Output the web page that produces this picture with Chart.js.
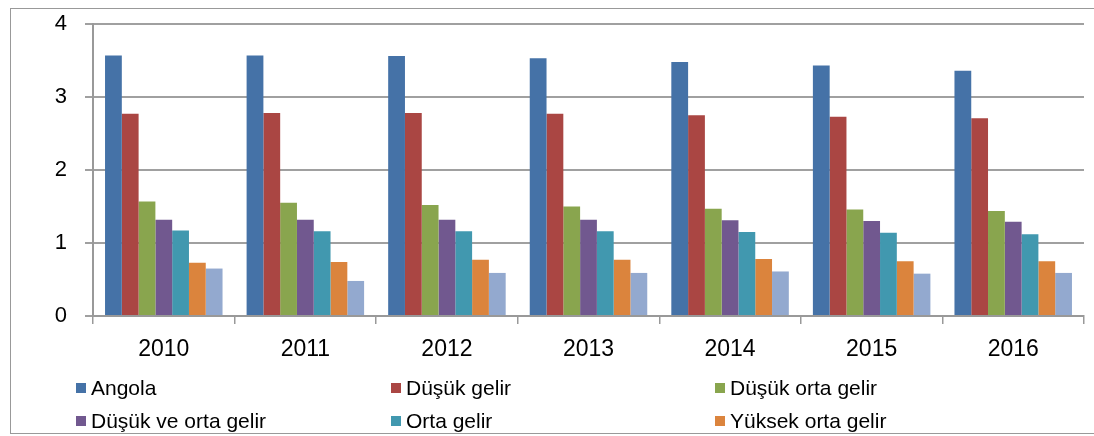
<!DOCTYPE html>
<html>
<head>
<meta charset="utf-8">
<script src="https://cdn.jsdelivr.net/npm/chart.js@4.4.1/dist/chart.umd.min.js"></script>
<style>
  html, body { margin: 0; padding: 0; background: #fff; }
  #wrap { position: relative; width: 1094px; height: 436px; overflow: hidden; }
  #frame { position: absolute; left: 10px; top: 8px; width: 1100px; height: 426px; border: 1px solid #999; box-sizing: border-box; pointer-events: none; }
  canvas { position: absolute; left: 0; top: 0; }
  .leg { position: absolute; font-family: "Liberation Sans", Arial, sans-serif; font-size: 21px; color: #000; line-height: 24px; white-space: nowrap; }
  .leg i { display: inline-block; width: 10px; height: 10px; margin-right: 5px; vertical-align: 2px; }
</style>
</head>
<body>
<div id="wrap">
  <canvas id="c" width="1094" height="436"></canvas>
  <div id="frame"></div>
  <div id="legend"></div>
</div>
<script>
const categories = ["2010", "2011", "2012", "2013", "2014", "2015", "2016"];
const seriesNames = ["Angola", "Düşük gelir", "Düşük orta gelir", "Düşük ve orta gelir", "Orta gelir", "Yüksek orta gelir", "Yüksek gelir"];
const angola          = [3.57, 3.57, 3.56, 3.53, 3.48, 3.43, 3.36];
const dusukGelir      = [2.77, 2.78, 2.78, 2.77, 2.75, 2.73, 2.71];
const dusukOrtaGelir  = [1.57, 1.55, 1.52, 1.50, 1.47, 1.46, 1.44];
const dusukVeOrta     = [1.32, 1.32, 1.32, 1.32, 1.31, 1.30, 1.29];
const ortaGelir       = [1.17, 1.16, 1.16, 1.16, 1.15, 1.14, 1.12];
const yuksekOrtaGelir = [0.73, 0.74, 0.77, 0.77, 0.78, 0.75, 0.75];
const yuksekGelir     = [0.65, 0.48, 0.59, 0.59, 0.61, 0.58, 0.59];
const yTicks = [0, 1, 2, 3, 4];
const legendCount = 6;

const colors = ["#4572a7", "#aa4643", "#89a54e", "#71588f", "#4198af", "#db843d", "#93a9cf"];
const values = [angola, dusukGelir, dusukOrtaGelir, dusukVeOrta, ortaGelir, yuksekOrtaGelir, yuksekGelir];

const datasets = values.map((v, i) => ({
  label: seriesNames[i],
  data: v,
  backgroundColor: colors[i],
  borderWidth: 0,
  categoryPercentage: 0.83,
  barPercentage: 1.0
}));

new Chart(document.getElementById("c"), {
  type: "bar",
  data: { labels: categories, datasets },
  options: {
    responsive: false,
    animation: false,
    devicePixelRatio: 1,
    layout: { padding: { left: 0, right: 10, top: 24, bottom: 70 } },
    plugins: { legend: { display: false }, tooltip: { enabled: false } },
    scales: {
      x: {
        afterFit: s => { s.height = 50; s.paddingLeft = 0; s.paddingRight = 0; },
        grid: { offset: true, drawOnChartArea: false, drawTicks: true, tickLength: 8, color: "#999", lineWidth: 1.5 },
        border: { display: true, color: "#999", width: 2 },
        ticks: { color: "#000", font: { family: "Liberation Sans", size: 23 }, padding: 12 }
      },
      y: {
        min: 0, max: 4,
        afterFit: s => { s.width = 93; s.paddingTop = 0; s.paddingBottom = 0; },
        afterBuildTicks: s => { s.ticks = yTicks.map(v => ({ value: v })); },
        grid: { color: "#a0a0a0", lineWidth: 2, tickLength: 8, drawTicks: true },
        border: { display: true, color: "#999", width: 2 },
        ticks: { color: "#000", font: { family: "Liberation Sans", size: 22 }, padding: 18 }
      }
    }
  }
});

const legendPos = [[76, 376], [391, 376], [715, 376], [76, 409], [391, 409], [715, 409]];
const legEl = document.getElementById("legend");
for (let i = 0; i < legendCount; i++) {
  const d = document.createElement("div");
  d.className = "leg";
  d.style.left = legendPos[i][0] + "px";
  d.style.top = legendPos[i][1] + "px";
  d.innerHTML = '<i style="background:' + colors[i] + '"></i>' + seriesNames[i];
  legEl.appendChild(d);
}
</script>
</body>
</html>
